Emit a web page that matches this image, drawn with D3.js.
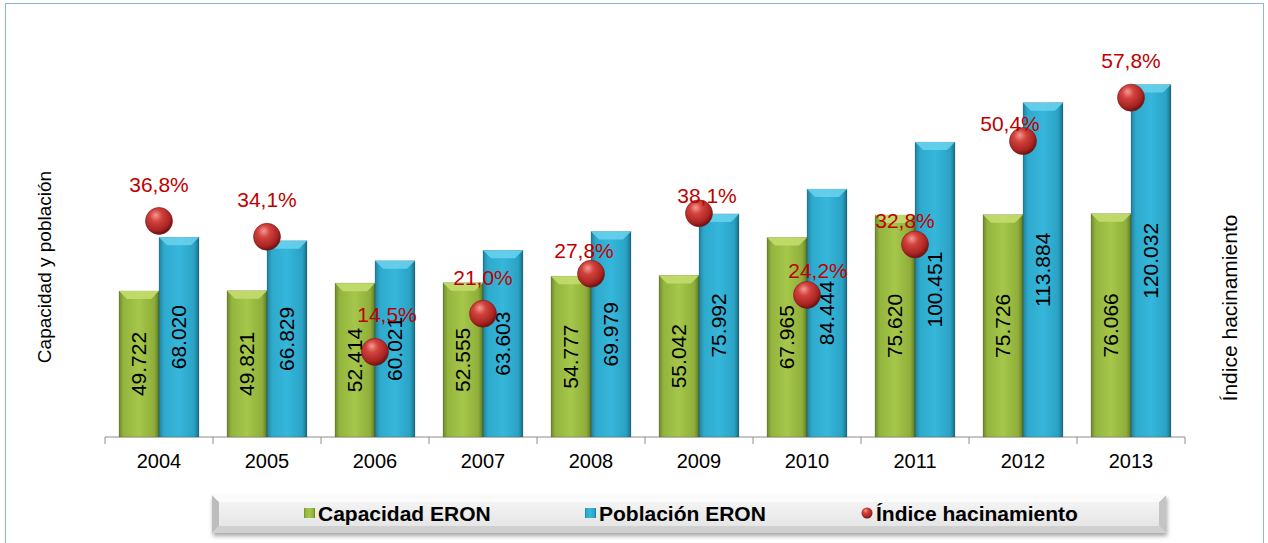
<!DOCTYPE html>
<html>
<head>
<meta charset="utf-8">
<script src="https://cdn.jsdelivr.net/npm/d3@7"></script>
<style>
  body { margin: 0; background: #fff; }
  svg { display: block; font-family: "Liberation Sans", Arial, sans-serif; }
</style>
</head>
<body>
<div id="chart"></div>
<script>
///////////// Data /////////////
const years = ["2004", "2005", "2006", "2007", "2008", "2009", "2010", "2011", "2012", "2013"];
const capacidad = [49722, 49821, 52414, 52555, 54777, 55042, 67965, 75620, 75726, 76066];
const poblacion = [68020, 66829, 60021, 63603, 69979, 75992, 84444, 100451, 113884, 120032];
const hacinamiento = [36.8, 34.1, 14.5, 21.0, 27.8, 38.1, 24.2, 32.8, 50.4, 57.8];
const seriesNames = ["Capacidad ERON", "Población ERON", "Índice hacinamiento"];

// where each percent label sits relative to its dot (layout only)
const labelNudge = [[0, -36], [0, -37], [12, -37], [0, -36], [-7, -23], [8, -17], [11, -24], [-10, -23], [-13, -17], [0, -37]];

const W = 1268, H = 543;
const axisY = 437;

const svg = d3.select("#chart").append("svg")
    .attr("width", W)
    .attr("height", H);

const defs = svg.append("defs");

//bar gradients (left to right, darker at the edges)
function barGrad(id, stops) {
    const g = defs.append("linearGradient").attr("id", id)
        .attr("x1", "0%").attr("x2", "100%").attr("y1", "0%").attr("y2", "0%");
    stops.forEach(s => g.append("stop").attr("offset", s[0]).attr("stop-color", s[1]));
}
barGrad("gGreen", [["0%", "#6f8a2a"], ["12%", "#94b53e"], ["50%", "#a5c74a"], ["88%", "#8fae3a"], ["100%", "#5f7a22"]]);
barGrad("gBlue", [["0%", "#1f7f9c"], ["12%", "#2ea9cc"], ["50%", "#35b7db"], ["88%", "#2aa2c4"], ["100%", "#1a6f88"]]);

const dotGrad = defs.append("radialGradient").attr("id", "gDot")
    .attr("cx", "40%").attr("cy", "35%").attr("r", "65%").attr("fx", "38%").attr("fy", "28%");
dotGrad.append("stop").attr("offset", "0%").attr("stop-color", "#f49a94");
dotGrad.append("stop").attr("offset", "35%").attr("stop-color", "#d2423d");
dotGrad.append("stop").attr("offset", "80%").attr("stop-color", "#a82422");
dotGrad.append("stop").attr("offset", "100%").attr("stop-color", "#6e1210");

const legFace = defs.append("linearGradient").attr("id", "gLeg")
    .attr("x1", "0%").attr("x2", "0%").attr("y1", "0%").attr("y2", "100%");
legFace.append("stop").attr("offset", "0%").attr("stop-color", "#f7f7f7");
legFace.append("stop").attr("offset", "100%").attr("stop-color", "#e2e2e2");

const shadow = defs.append("filter").attr("id", "shadow")
    .attr("x", "-5%").attr("y", "-20%").attr("width", "110%").attr("height", "160%");
shadow.append("feDropShadow").attr("dx", 1).attr("dy", 3).attr("stdDeviation", 2)
    .attr("flood-color", "#000").attr("flood-opacity", 0.35);

//chart border
svg.append("rect")
    .attr("x", 5.5).attr("y", 3.5)
    .attr("width", 1258).attr("height", 560)
    .attr("fill", "#fff")
    .attr("stroke", "#8eb4e3");

///////////// Scales /////////////
const x0 = d3.scaleBand().domain(years).range([105, 1185]).padding(0);
const x1 = d3.scaleBand().domain(["cap", "pob"]).range([0, x0.bandwidth()])
    .paddingInner(0).paddingOuter(0.35);
const y = d3.scaleLinear().domain([0, 140000]).range([axisY, 26]);
const y2 = d3.scaleLinear().domain([0, 70]).range([axisY, 26]);

//x axis
const xAxis = d3.axisBottom(x0).tickSize(0).tickPadding(17);
const axG = svg.append("g")
    .attr("transform", `translate(0,${axisY})`)
    .call(xAxis);
axG.select(".domain").attr("stroke", "#8c8c8c").attr("d", "M105,0H1185");
axG.selectAll("text")
    .attr("font-size", 20)
    .attr("font-family", "Liberation Sans, Arial, sans-serif")
    .attr("fill", "#000");
//boundary ticks between categories
axG.selectAll(".bound")
    .data(years.concat(["end"]))
    .enter()
    .append("line")
    .attr("class", "bound")
    .attr("x1", (d, i) => 105 + i * x0.step())
    .attr("x2", (d, i) => 105 + i * x0.step())
    .attr("y1", 0).attr("y2", 7)
    .attr("stroke", "#8c8c8c");

///////////// Bars /////////////
const rows = years.map((yr, i) => [
    { year: yr, key: "cap", v: capacidad[i], fill: "url(#gGreen)", bevel: "#c3dd6e" },
    { year: yr, key: "pob", v: poblacion[i], fill: "url(#gBlue)", bevel: "#67d0ec" }
]);

const bars = svg.append("g").selectAll("g")
    .data(rows.flat())
    .enter()
    .append("g")
    .attr("transform", d => `translate(${x0(d.year) + x1(d.key)},0)`);

const bw = x1.bandwidth();
const bev = 8;

bars.append("rect")
    .attr("x", 0)
    .attr("y", d => y(d.v))
    .attr("width", bw)
    .attr("height", d => axisY - y(d.v))
    .attr("fill", d => d.fill)
    .attr("stroke", "rgba(0,0,0,0.25)")
    .attr("stroke-width", 0.6);

//top bevel
bars.append("path")
    .attr("d", d => {
        const t = y(d.v);
        return `M0,${t}L${bw},${t}L${bw - bev},${t + bev}L${bev},${t + bev}Z`;
    })
    .attr("fill", d => d.bevel)
    .attr("opacity", 0.9);

//value labels
bars.append("text")
    .attr("transform", d => `translate(${bw / 2 + 7},${(y(d.v) + axisY) / 2}) rotate(-90)`)
    .attr("text-anchor", "middle")
    .attr("font-size", 21)
    .attr("fill", "#000")
    .text(d => d3.format(",")(d.v).replace(/,/g, "."));

///////////// Index dots /////////////
const dots = svg.append("g").selectAll("g")
    .data(hacinamiento)
    .enter()
    .append("g")
    .attr("transform", (d, i) => `translate(${x0(years[i]) + x0.bandwidth() / 2},${y2(d)})`);

dots.append("circle")
    .attr("r", 13.5)
    .attr("fill", "url(#gDot)")
    .attr("stroke", "#7a1a18")
    .attr("stroke-width", 0.6);

dots.append("text")
    .attr("x", (d, i) => labelNudge[i][0])
    .attr("y", (d, i) => labelNudge[i][1] + 7)
    .attr("text-anchor", "middle")
    .attr("font-size", 21)
    .attr("fill", "#c00000")
    .text(d => d.toFixed(1).replace(".", ",") + "%");

///////////// Axis titles /////////////
svg.append("text")
    .attr("transform", "translate(51,267) rotate(-90)")
    .attr("text-anchor", "middle")
    .attr("font-size", 19)
    .text("Capacidad y población");

svg.append("text")
    .attr("transform", "translate(1237,308) rotate(-90)")
    .attr("text-anchor", "middle")
    .attr("font-size", 21)
    .text("Índice hacinamiento");

///////////// Legend /////////////
const lx = 212, ly = 495, lw = 954, lh = 38, lb = 7;
const leg = svg.append("g");
leg.append("rect")
    .attr("x", lx).attr("y", ly).attr("width", lw).attr("height", lh)
    .attr("fill", "url(#gLeg)")
    .attr("filter", "url(#shadow)");
//bevel edges
leg.append("path")
    .attr("d", `M${lx},${ly}L${lx + lb},${ly + lb}L${lx + lb},${ly + lh - lb}L${lx},${ly + lh}Z`)
    .attr("fill", "#bdbdbd");
leg.append("path")
    .attr("d", `M${lx + lw},${ly}L${lx + lw - lb},${ly + lb}L${lx + lw - lb},${ly + lh - lb}L${lx + lw},${ly + lh}Z`)
    .attr("fill", "#c4c4c4");
leg.append("path")
    .attr("d", `M${lx},${ly}L${lx + lw},${ly}L${lx + lw - lb},${ly + lb}L${lx + lb},${ly + lb}Z`)
    .attr("fill", "#fbfbfb");
leg.append("path")
    .attr("d", `M${lx},${ly + lh}L${lx + lw},${ly + lh}L${lx + lw - lb},${ly + lh - lb}L${lx + lb},${ly + lh - lb}Z`)
    .attr("fill", "#d0d0d0");

const legItems = [
    { name: seriesNames[0], x: 304, type: "rect", fill: "url(#gGreen)" },
    { name: seriesNames[1], x: 585, type: "rect", fill: "url(#gBlue)" },
    { name: seriesNames[2], x: 862, type: "dot", fill: "url(#gDot)" }
];

legItems.forEach(it => {
    if (it.type === "rect") {
        leg.append("rect")
            .attr("x", it.x).attr("y", 508).attr("width", 11).attr("height", 10)
            .attr("fill", it.fill);
    } else {
        leg.append("circle")
            .attr("cx", it.x + 5).attr("cy", 513).attr("r", 5.5)
            .attr("fill", it.fill);
    }
    leg.append("text")
        .attr("x", it.x + 14)
        .attr("y", 521)
        .attr("font-size", 21)
        .attr("font-weight", "bold")
        .text(it.name);
});
</script>
</body>
</html>
